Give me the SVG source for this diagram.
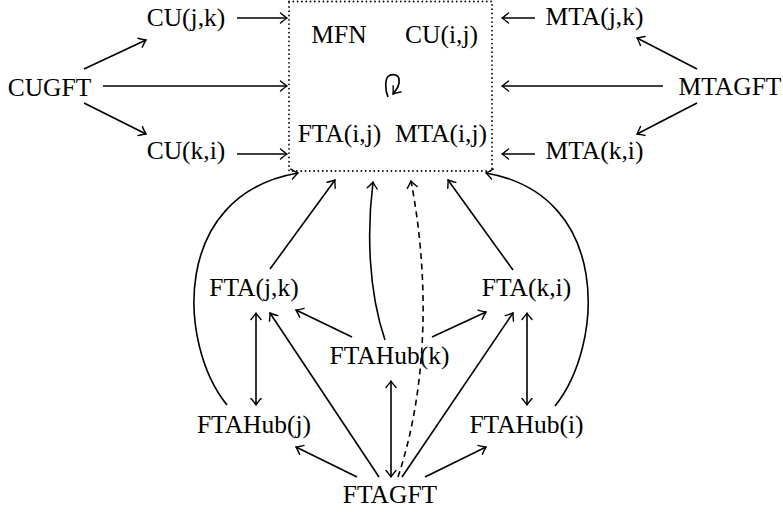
<svg xmlns="http://www.w3.org/2000/svg" width="783" height="512" viewBox="0 0 783 512">
<defs>
<marker id="ah" viewBox="-8 -6 10 12" markerWidth="10" markerHeight="12" refX="0" refY="0" orient="auto-start-reverse" markerUnits="userSpaceOnUse">
<path d="M-6.5,-5 Q-2,-1.2 0,0 Q-2,1.2 -6.5,5" fill="none" stroke="#000" stroke-width="1.4" stroke-linecap="round"/>
</marker>
<style>
text{font-family:"Liberation Serif","DejaVu Serif",serif;font-size:25.5px;fill:#000;text-anchor:middle}
.e{fill:none;stroke:#000;stroke-width:1.6;marker-end:url(#ah)}
.d{marker-start:url(#ah)}
.dash{stroke-dasharray:6 4.5}
</style>
</defs>
<rect x="289" y="1.5" width="203" height="169.5" fill="none" stroke="#000" stroke-width="1.8" stroke-dasharray="0 4.3" stroke-linecap="round"/>
<g id="box-content">
<text x="339" y="43">MFN</text>
<text x="441.5" y="43">CU(i,j)</text>
<text x="339.5" y="142">FTA(i,j)</text>
<text x="441" y="142">MTA(i,j)</text>
<path d="M388,97 C385,90 385,80 388,76.5 C391,73.5 398,74 399,79 C400,85 397,89 393,94" fill="none" stroke="#000" stroke-width="1.7" marker-end="url(#ah)"/>
</g>
<g id="CUGFT"><text x="49.5" y="96">CUGFT</text></g>
<g id="CUjk"><text x="186" y="26">CU(j,k)</text></g>
<g id="CUki"><text x="186" y="159">CU(k,i)</text></g>
<g id="MTAGFT"><text x="730" y="95">MTAGFT</text></g>
<g id="MTAjk"><text x="594.5" y="25">MTA(j,k)</text></g>
<g id="MTAki"><text x="594.5" y="159">MTA(k,i)</text></g>
<g id="FTAjk"><text x="254" y="296">FTA(j,k)</text></g>
<g id="FTAki"><text x="526.5" y="296">FTA(k,i)</text></g>
<g id="FTAHubk"><text x="389.5" y="364">FTAHub(k)</text></g>
<g id="FTAHubj"><text x="254" y="433">FTAHub(j)</text></g>
<g id="FTAHubi"><text x="526.5" y="433">FTAHub(i)</text></g>
<g id="FTAGFT"><text x="390" y="503">FTAGFT</text></g>
<g id="connectors">
<path class="e" d="M237,18 L287,18"/>
<path class="e" d="M103,86 L287,86"/>
<path class="e" d="M237,154 L287,154"/>
<path class="e" d="M84,69 L146,40"/>
<path class="e" d="M84,103 L146,134"/>
<path class="e" d="M535,18 L502,18"/>
<path class="e" d="M663,86 L502,86"/>
<path class="e" d="M535,154 L502,154"/>
<path class="e" d="M697,69 L637,38"/>
<path class="e" d="M697,103 L637,134"/>
<path class="e" d="M270,269 L335,180"/>
<path class="e" d="M513,270 L448,180"/>
<path class="e" d="M385,340 C368,290 367,230 373,182"/>
<path class="e dash" d="M398,477 C430,380 428,270 411,181"/>
<path class="e" d="M227,405 C178,345 170,195 298,173"/>
<path class="e" d="M555,406 C604,345 612,195 486,173"/>
<path class="e" d="M352,337 L296,310"/>
<path class="e" d="M432,337 L486,312"/>
<path class="e d" d="M256,313 L256,405"/>
<path class="e d" d="M527,313 L527,405"/>
<path class="e d" d="M391,381 L391,477"/>
<path class="e" d="M379,477 L270,313"/>
<path class="e" d="M402,477 L513,313"/>
<path class="e" d="M357,477 L296,447"/>
<path class="e" d="M425,477 L486,447"/>
</g>
</svg>
